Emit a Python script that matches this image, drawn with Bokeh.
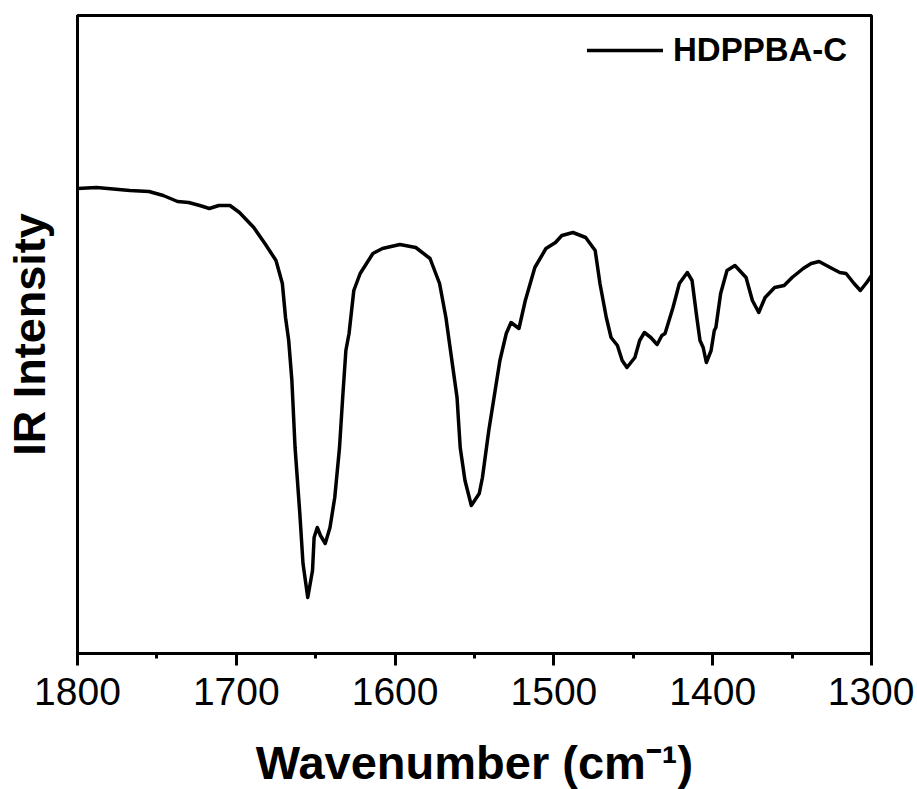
from bokeh.plotting import figure
from bokeh.models import Range1d, FixedTicker, Legend, LegendItem
from bokeh.embed import file_html
from bokeh.resources import INLINE

# Data (wavenumber in cm^-1, intensity in a.u.)
wavenumber = [1800, 1788, 1767, 1755, 1746, 1737, 1730, 1723, 1717, 1711, 1704, 1698,
              1689, 1682, 1675, 1671, 1669, 1667, 1665, 1663, 1660, 1658, 1655, 1652,
              1651, 1649, 1647, 1644, 1641, 1638, 1635, 1633, 1631, 1629, 1626, 1622,
              1614, 1608, 1597, 1587, 1578, 1572, 1568, 1566, 1561, 1559, 1556, 1552,
              1547, 1545, 1541, 1537, 1534, 1530, 1527, 1522, 1518, 1512, 1505, 1499,
              1495, 1488, 1480, 1474, 1471, 1467, 1464, 1460, 1457, 1454, 1449, 1446,
              1443, 1439, 1435, 1432, 1430, 1425, 1421, 1416, 1413, 1410, 1408, 1406,
              1404, 1401, 1399, 1398, 1395, 1391, 1386, 1379, 1375, 1371, 1367, 1361,
              1355, 1350, 1343, 1338, 1333, 1326, 1320, 1316, 1311, 1307, 1303, 1300]
intensity = [465, 466, 463, 462, 458, 452, 451, 448, 445, 448, 448, 441,
             426, 410, 393, 370, 336, 313, 273, 206, 140, 90, 56, 83,
             116, 126, 118, 110, 126, 156, 206, 256, 303, 320, 363, 380,
             400, 405, 409, 406, 395, 370, 336, 313, 256, 206, 173, 148,
             160, 176, 223, 263, 293, 320, 331, 325, 353, 386, 405, 411,
             418, 421, 416, 403, 370, 336, 316, 308, 293, 286, 296, 313,
             321, 316, 309, 318, 320, 346, 370, 381, 373, 336, 313, 306,
             291, 303, 323, 326, 360, 383, 388, 376, 353, 341, 356, 366,
             368, 376, 385, 390, 392, 386, 381, 380, 370, 363, 371, 378]

x_major_ticks = [1800, 1700, 1600, 1500, 1400, 1300]
x_minor_ticks = [1750, 1650, 1550, 1450, 1350]
series_name = "HDPPBA-C"

FONT = "Liberation Sans"

p = figure(frame_width=794, frame_height=638, output_backend="svg", toolbar_location=None,
           x_range=Range1d(1800, 1300), y_range=Range1d(0, 638),
           min_border_left=75, min_border_right=43, min_border_top=15,
           min_border_bottom=100)

r = p.line(wavenumber, intensity, line_color="black", line_width=3.5,
           line_join="round", line_cap="round")

p.grid.visible = False
p.outline_line_color = "black"
p.outline_line_width = 3
p.outline_line_alpha = 1
p.background_fill_color = "white"
p.border_fill_color = "white"

xa = p.xaxis[0]
xa.ticker = FixedTicker(ticks=x_major_ticks, minor_ticks=x_minor_ticks)
xa.axis_line_width = 3
xa.major_tick_line_width = 3
xa.minor_tick_line_width = 3
xa.major_tick_out = 12
xa.major_tick_in = 0
xa.minor_tick_out = 5
xa.minor_tick_in = 0
xa.major_label_text_font = FONT
xa.major_label_text_font_size = "39px"
xa.major_label_text_color = "black"
xa.major_label_standoff = 12
xa.axis_label = "Wavenumber (cm\u207b\u00b9)"
xa.axis_label_text_font = FONT
xa.axis_label_text_font_size = "47px"
xa.axis_label_text_font_style = "bold"
xa.axis_label_text_color = "black"
xa.axis_label_standoff = 28

ya = p.yaxis[0]
ya.ticker = FixedTicker(ticks=[])
ya.axis_line_width = 3
ya.major_tick_line_color = None
ya.minor_tick_line_color = None
ya.axis_label = "IR Intensity"
ya.axis_label_text_font = FONT
ya.axis_label_text_font_size = "45px"
ya.axis_label_text_font_style = "bold"
ya.axis_label_text_color = "black"
ya.axis_label_standoff = 23

legend = Legend(items=[LegendItem(label=series_name, renderers=[r])],
                location=(510, 584))
legend.border_line_color = None
legend.background_fill_alpha = 0
legend.label_text_font = FONT
legend.label_text_font_size = "33px"
legend.label_text_font_style = "bold"
legend.label_text_color = "black"
legend.glyph_width = 76
legend.glyph_height = 28
legend.label_height = 28
legend.label_standoff = 10
legend.margin = 0
legend.padding = 0
p.add_layout(legend)

open("out.html", "w").write(file_html(p, INLINE))
